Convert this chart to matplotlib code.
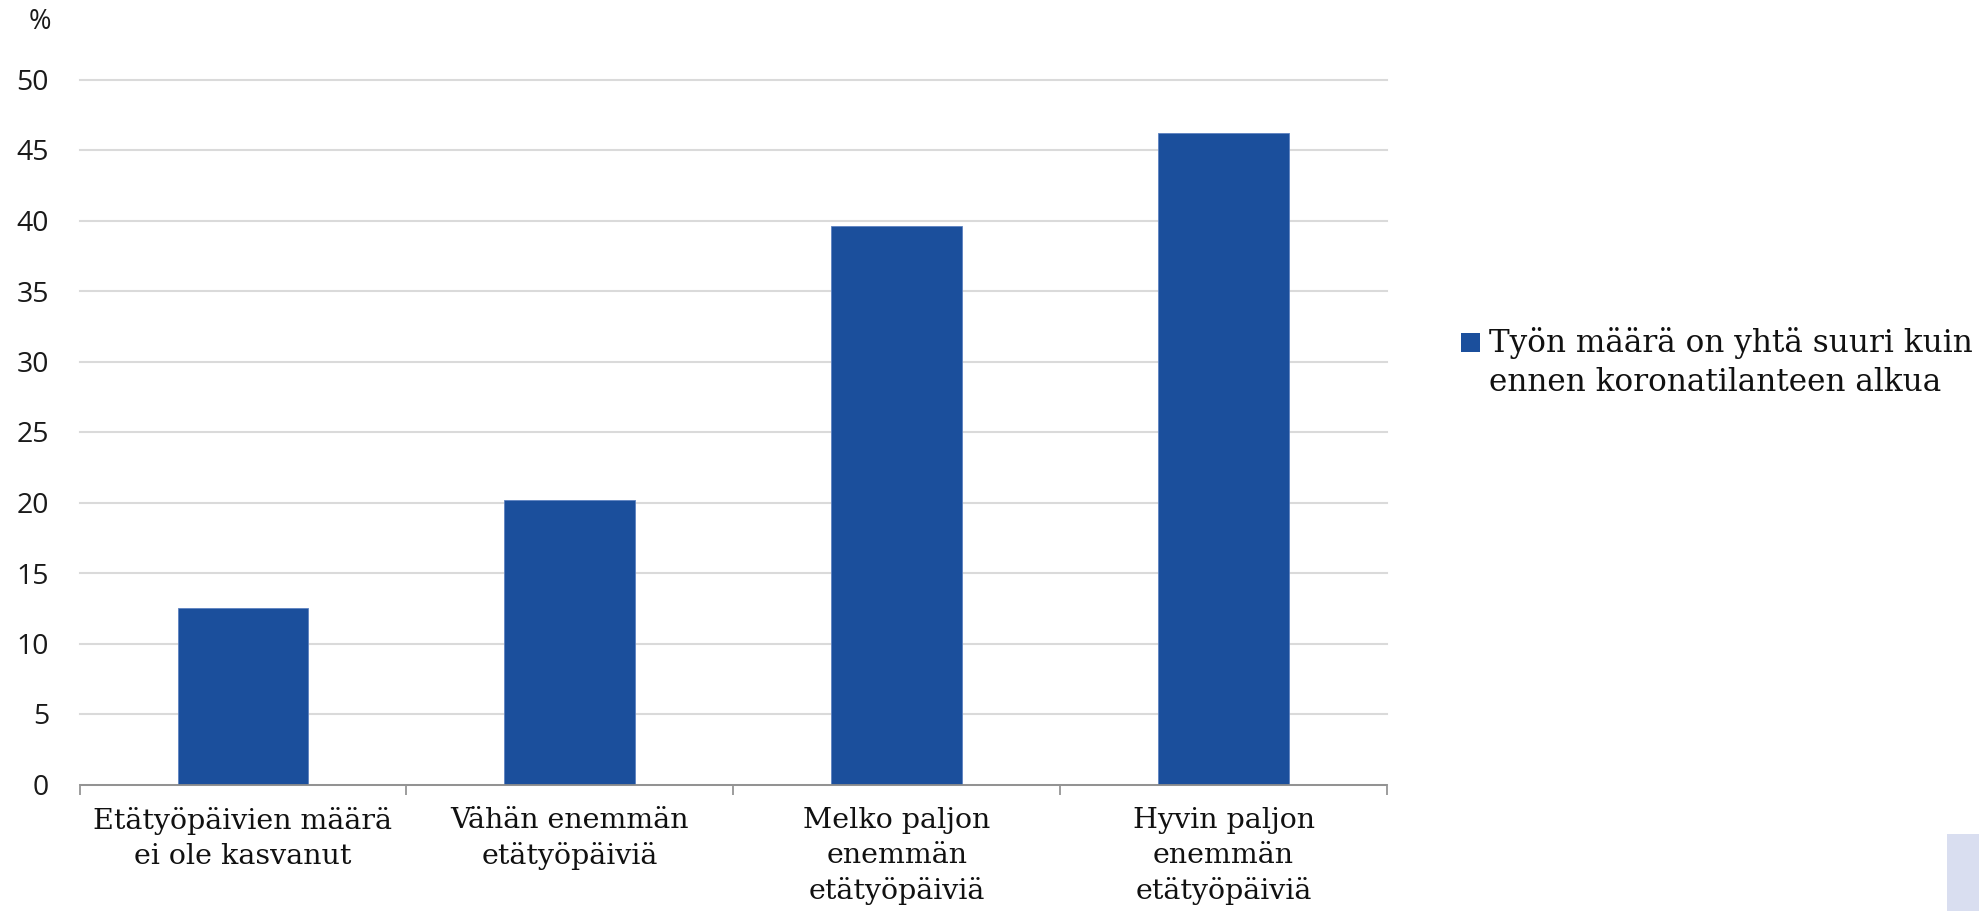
import matplotlib
matplotlib.use("Agg")
import matplotlib.pyplot as plt
from matplotlib.patches import Rectangle
import numpy as np

# Data
categories = [
    "Etätyöpäivien määrä\nei ole kasvanut",
    "Vähän enemmän\netätyöpäiviä",
    "Melko paljon\nenemmän\netätyöpäiviä",
    "Hyvin paljon\nenemmän\netätyöpäiviä",
]
values = [12.5, 20.2, 39.6, 46.2]
series_label = "Työn määrä on yhtä suuri kuin\nennen koronatilanteen alkua"
y_ticks = [0, 5, 10, 15, 20, 25, 30, 35, 40, 45, 50]

BAR_COLOR = "#1b4f9c"
W, H = 1979, 911

fig = plt.figure(figsize=(W / 100, H / 100), dpi=100)
fig.patch.set_facecolor("white")

ax_left, ax_right = 79.5, 1387
ax_top, ax_bottom = 79.5, 784.5
ax = fig.add_axes([ax_left / W, (H - ax_bottom) / H,
                   (ax_right - ax_left) / W, (ax_bottom - ax_top) / H])

x = np.arange(len(categories))
ax.bar(x, values, width=0.4, color=BAR_COLOR, edgecolor="#5d82c0",
       linewidth=0.6, zorder=3)

ax.set_xlim(-0.5, len(categories) - 0.5)
ax.set_ylim(0, 50)

# y axis
ax.set_yticks(y_ticks)
ax.set_yticklabels([str(v) for v in y_ticks], family="Open Sans", fontsize=20.5,
                   color="#1a1a1a")
ax.tick_params(axis="y", length=0, pad=22)
ax.yaxis.grid(True, color="#dadada", linewidth=1.5, zorder=0)
for gl in ax.get_ygridlines():
    gl.set_clip_on(False)
ax.set_axisbelow(True)

# x axis: labels at category centres, tick marks at category boundaries
ax.set_xticks(x)
ax.set_xticklabels(categories, family="DejaVu Serif", fontsize=20.5,
                   color="#111111", linespacing=1.36)
ax.tick_params(axis="x", which="major", length=0, pad=16.5)
ax.set_xticks(np.arange(-0.5, len(categories), 1.0), minor=True)
ax.tick_params(axis="x", which="minor", length=7, width=1.2, color="#8c8c8c",
               direction="out")

for side in ("top", "right", "left"):
    ax.spines[side].set_visible(False)
ax.spines["bottom"].set_color("#8c8c8c")
ax.spines["bottom"].set_linewidth(1.3)
ax.spines["bottom"].set_zorder(4)

# unit label
fig.text(40 / W, 1 - 22 / H, "%", family="Open Sans", fontsize=19.5,
         ha="center", va="center", color="#1a1a1a")

# legend: swatch plus one text line per row
fig.patches.append(Rectangle((1461 / W, 1 - 351.7 / H), 18.5 / W, 18.5 / H,
                             transform=fig.transFigure, facecolor=BAR_COLOR,
                             edgecolor="none"))
for i, line in enumerate(series_label.split("\n")):
    fig.text(1489 / W, 1 - (351.7 + 39.5 * i) / H, line, family="DejaVu Serif",
             fontsize=22.4, ha="left", va="baseline", color="#111111")

# corner block
fig.patches.append(Rectangle((1947 / W, 0), (W - 1947) / W, (H - 834) / H,
                             transform=fig.transFigure, facecolor="#d9def0",
                             edgecolor="none"))

fig.savefig("out.png", dpi=100)
